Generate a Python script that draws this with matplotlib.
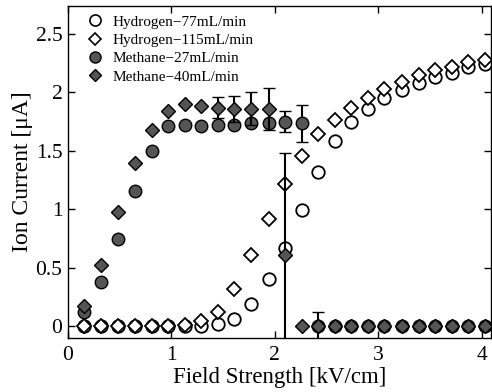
import matplotlib
matplotlib.use("Agg")
import matplotlib.pyplot as plt
from matplotlib.lines import Line2D

plt.rcParams['font.family'] = ['Liberation Serif', 'DejaVu Serif']

field = [0.16, 0.32, 0.48, 0.65, 0.81, 0.97, 1.13, 1.29, 1.45, 1.61, 1.77, 1.94,
         2.10, 2.26, 2.42, 2.58, 2.74, 2.90, 3.06, 3.23, 3.39, 3.55, 3.71, 3.87, 4.03]

h2_77 = [0, 0, 0, 0, 0, 0, 0, 0, 0.02, 0.065, 0.19, 0.40, 0.67, 0.99, 1.32, 1.58,
         1.75, 1.86, 1.95, 2.02, 2.08, 2.13, 2.17, 2.22, 2.24]
h2_115 = [0, 0, 0, 0, 0, 0, 0.01, 0.045, 0.125, 0.32, 0.61, 0.92, 1.22, 1.46, 1.64,
          1.76, 1.87, 1.95, 2.03, 2.09, 2.15, 2.19, 2.22, 2.26, 2.28]
ch4_27 = [0.12, 0.38, 0.75, 1.16, 1.50, 1.71, 1.72, 1.71, 1.72, 1.72, 1.74, 1.74,
          1.75, 1.735, 0, 0, 0, 0, 0, 0, 0, 0, 0, 0, 0]
ch4_27_err = [0, 0, 0, 0, 0, 0, 0, 0, 0, 0, 0, 0,
              0.09, 0.16, 0.12, 0, 0, 0, 0, 0, 0, 0, 0, 0, 0]
ch4_40 = [0.17, 0.52, 0.98, 1.40, 1.675, 1.84, 1.90, 1.88, 1.87, 1.86, 1.86, 1.855,
          0.61, 0, 0, 0, 0, 0, 0, 0, 0, 0, 0, 0, 0]
ch4_40_err = [0, 0, 0, 0, 0, 0, 0, 0, 0.09, 0.11, 0.14, 0.18,
              0.87, 0, 0, 0, 0, 0, 0, 0, 0, 0, 0, 0, 0]

labels = ['Hydrogen\u221277mL/min', 'Hydrogen\u2212115mL/min',
          'Methane\u221227mL/min', 'Methane\u221240mL/min']

fig = plt.figure(figsize=(4.92, 3.92), dpi=100)
ax = fig.add_axes([0.138, 0.138, 0.860, 0.847])

gray = '#555555'
ms = 9
ax.plot(field, h2_77, 'o', ms=ms, mfc='white', mec='black', mew=1.3, ls='none', zorder=3)
ax.plot(field, h2_115, 'D', ms=ms * 0.8, mfc='white', mec='black', mew=1.3, ls='none', zorder=3)
ax.errorbar(field, ch4_27, yerr=ch4_27_err, fmt='o', ms=ms, mfc=gray, mec='black', mew=1.0,
            ecolor='black', elinewidth=1.5, capsize=4, capthick=1.5, zorder=4)
ax.errorbar(field, ch4_40, yerr=ch4_40_err, fmt='D', ms=ms * 0.8, mfc=gray, mec='black', mew=1.0,
            ecolor='black', elinewidth=1.5, capsize=4, capthick=1.5, zorder=5)

ax.set_xlim(0, 4.09)
ax.set_ylim(-0.1, 2.74)
ax.set_xticks([0, 1, 2, 3, 4])
ax.set_xticklabels(['0', '1', '2', '3', '4'])
ax.set_yticks([0, 0.5, 1, 1.5, 2, 2.5])
ax.set_yticklabels(['0', '0.5', '1', '1.5', '2', '2.5'])
ax.tick_params(direction='in', length=5, width=1, top=True, right=True, labelsize=15.5)
ax.tick_params(axis='x', pad=6)
ax.tick_params(axis='y', pad=4)
for s in ax.spines.values():
    s.set_linewidth(1.0)

ax.set_xlabel('Field Strength [kV/cm]', fontsize=16.5, labelpad=1)
ax.set_ylabel('Ion Current [\u03bcA]', fontsize=17, labelpad=2)

handles = [
    Line2D([], [], marker='o', ms=8, mfc='white', mec='black', mew=1.2, ls='none'),
    Line2D([], [], marker='D', ms=6.5, mfc='white', mec='black', mew=1.2, ls='none'),
    Line2D([], [], marker='o', ms=8, mfc=gray, mec='black', mew=1.0, ls='none'),
    Line2D([], [], marker='D', ms=6.5, mfc=gray, mec='black', mew=1.0, ls='none'),
]
leg = ax.legend(handles, labels, loc='upper left', frameon=False, fontsize=11,
                handletextpad=0.55, borderaxespad=0.2, labelspacing=0.3,
                handlelength=1.2, bbox_to_anchor=(0.02, 1.0))

fig.savefig('out.png', dpi=100)
